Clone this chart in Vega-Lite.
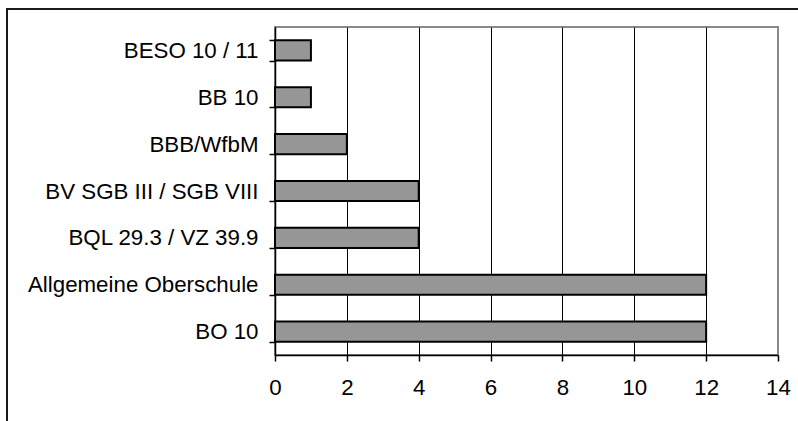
{
  "$schema": "https://vega.github.io/schema/vega-lite/v6.json",
  "width": 503,
  "height": 328,
  "autosize": {"type": "none"},
  "padding": {"left": 275, "top": 27, "right": 20, "bottom": 66},
  "background": "white",
  "config": {
    "font": "Liberation Sans",
    "view": {"stroke": "#8a8a8a", "strokeWidth": 2}
  },
  "data": {
    "values": [
      {"kategorie": "BESO 10 / 11", "anzahl": 1},
      {"kategorie": "BB 10", "anzahl": 1},
      {"kategorie": "BBB/WfbM", "anzahl": 2},
      {"kategorie": "BV SGB III / SGB VIII", "anzahl": 4},
      {"kategorie": "BQL 29.3 / VZ 39.9", "anzahl": 4},
      {"kategorie": "Allgemeine Oberschule", "anzahl": 12},
      {"kategorie": "BO 10", "anzahl": 12}
    ]
  },
  "layer": [
    {
      "mark": {"type": "rect", "fill": null, "stroke": "#1a1a1a", "strokeWidth": 2, "clip": false},
      "encoding": {
        "x": {"value": -268},
        "x2": {"value": 560},
        "y": {"value": -18},
        "y2": {"value": 420}
      },
      "data": {"values": [{}]}
    },
    {
      "mark": {"type": "bar", "fill": "#969696", "stroke": "black", "strokeWidth": 2},
      "encoding": {
        "y": {
          "field": "kategorie",
          "type": "nominal",
          "sort": null,
          "scale": {"paddingInner": 0.57, "paddingOuter": 0.285},
          "axis": {
            "title": null,
            "tickBand": "extent",
            "domainColor": "black",
            "domainWidth": 1.5,
            "tickColor": "black",
            "tickWidth": 1.5,
            "tickSize": 6,
            "labelFontSize": 22.3,
            "labelColor": "black",
            "labelPadding": 11,
            "labelLimit": 300
          }
        },
        "x": {
          "field": "anzahl",
          "type": "quantitative",
          "scale": {"domain": [0, 14], "nice": false},
          "axis": {
            "title": null,
            "values": [0, 2, 4, 6, 8, 10, 12, 14],
            "grid": true,
            "gridColor": {"condition": {"test": "datum.value == 14", "value": "#8a8a8a"}, "value": "black"},
            "gridWidth": 1,
            "domainColor": "black",
            "domainWidth": 1.5,
            "tickColor": "black",
            "tickWidth": 1.5,
            "tickSize": 6,
            "labelFontSize": 22.3,
            "labelColor": "black",
            "labelPadding": 15,
            "labelFlush": false
          }
        }
      }
    }
  ]
}
